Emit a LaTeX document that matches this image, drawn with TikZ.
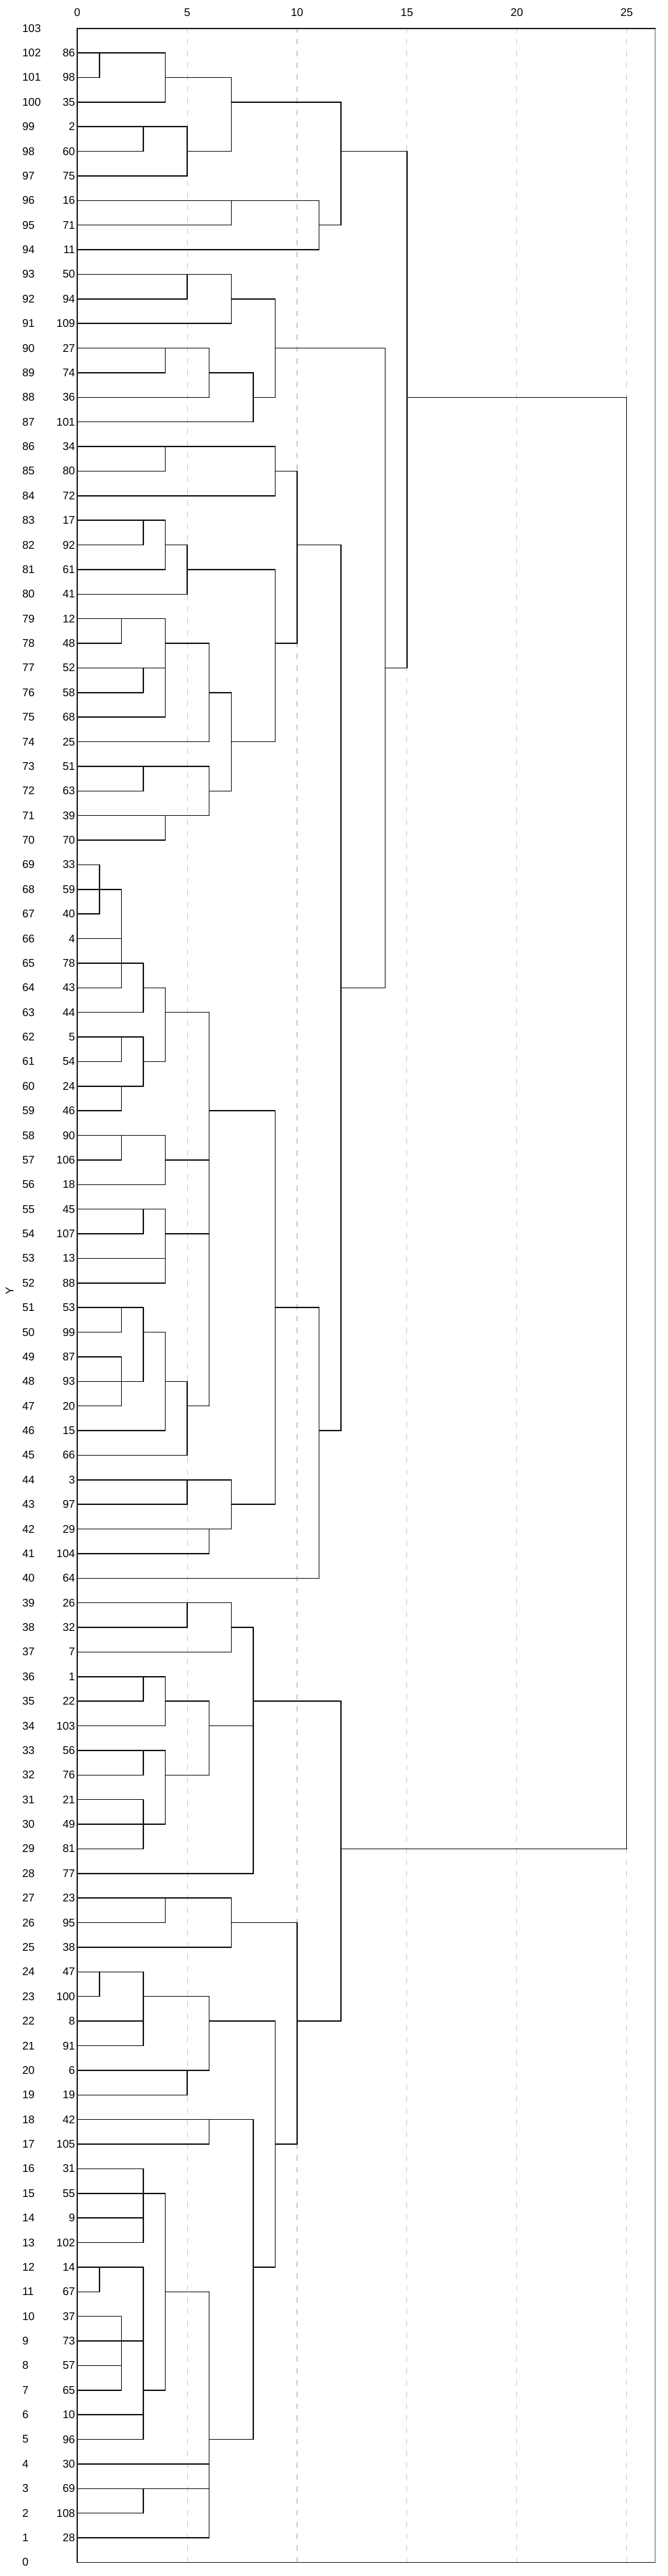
\documentclass[tikz,border=0pt]{standalone}
\usepackage{fontspec}
\setmainfont{Liberation Sans}
\usetikzlibrary{positioning}

\begin{document}
\begin{tikzpicture}[line cap=round,line join=round,x=31.58pt,y=35.376pt,
  branch/.style={black!90,line width=1.5pt},
  gridline/.style={black!20,line width=1.1pt,dash pattern=on 7pt off 10pt},
  leaflab/.style={anchor=east,inner sep=0pt,font=\fontsize{16}{19}\selectfont},
  rowlab/.style={anchor=west,inner sep=0pt,font=\fontsize{16}{19}\selectfont},
  ticklab/.style={inner sep=0pt,font=\fontsize{16}{19}\selectfont}]
\useasboundingbox (-3.521,-0.554) rectangle (26.878,104.15);
\foreach \g in {5,10,...,25}
  \draw [gridline] (\g,0) -- (\g,103);
\foreach \t in {0,5,...,25}
  \node [ticklab] (t\t) at (\t,103.64) {\t};
\foreach \r in {0,...,103}
  \node [rowlab] (r\r) at (-2.514,\r) {\r};
\node [ticklab,rotate=90] (ylab) at (-3.08,51.68) {Y};
\foreach \r/\lab in {102/86,101/98,100/35,99/2,98/60,97/75,96/16,95/71,94/11,93/50,92/94,91/109,90/27,89/74,88/36,87/101,86/34,85/80,84/72,83/17,82/92,81/61,80/41,79/12,78/48,77/52,76/58,75/68,74/25,73/51,72/63,71/39,70/70,69/33,68/59,67/40,66/4,65/78,64/43,63/44,62/5,61/54,60/24,59/46,58/90,57/106,56/18,55/45,54/107,53/13,52/88,51/53,50/99,49/87,48/93,47/20,46/15,45/66,44/3,43/97,42/29,41/104,40/64,39/26,38/32,37/7,36/1,35/22,34/103,33/56,32/76,31/21,30/49,29/81,28/77,27/23,26/95,25/38,24/47,23/100,22/8,21/91,20/6,19/19,18/42,17/105,16/31,15/55,14/9,13/102,12/14,11/67,10/37,9/73,8/57,7/65,6/10,5/96,4/30,3/69,2/108,1/28}
  \node [leaflab] (l\r) at (-0.1,\r) {\lab};
\foreach \r/\a/\b in {102/0/4,101/0/1,101/4/7,100/0/4,100/7/12,99/0/5,98/0/3,98/5/7,98/12/15,97/0/5,96/0/11,95/0/7,95/11/12,94/0/11,93/0/7,92/0/5,92/7/9,91/0/7,90/0/6,90/9/14,89/0/4,89/6/8,88/0/6,88/8/9,88/15/25,87/0/8,86/0/9,85/0/4,85/9/10,84/0/9,83/0/4,82/0/3,82/4/5,82/10/12,81/0/4,81/5/9,80/0/5,79/0/4,78/0/2,78/4/6,78/9/10,77/0/4,77/14/15,76/0/3,76/6/7,75/0/4,74/0/6,74/7/9,73/0/6,72/0/3,72/6/7,71/0/6,70/0/4,69/0/1,68/0/2,67/0/1,66/0/2,65/0/3,64/0/2,64/3/4,64/12/14,63/0/3,63/4/6,62/0/3,61/0/2,61/3/4,60/0/3,59/0/2,59/6/9,58/0/4,57/0/2,57/4/6,56/0/4,55/0/4,54/0/3,54/4/6,53/0/4,52/0/4,51/0/3,51/9/11,50/0/2,50/3/4,49/0/2,48/0/3,48/4/5,47/0/2,47/5/6,46/0/4,46/11/12,45/0/5,44/0/7,43/0/5,43/7/9,42/0/7,41/0/6,40/0/11,39/0/7,38/0/5,38/7/8,37/0/7,36/0/4,35/0/3,35/4/6,35/8/12,34/0/4,34/6/8,33/0/4,32/0/3,32/4/6,31/0/3,30/0/4,29/0/3,29/12/25,28/0/8,27/0/7,26/0/4,26/7/10,25/0/7,24/0/3,23/0/1,23/3/6,22/0/3,22/6/9,22/10/12,21/0/3,20/0/6,19/0/5,18/0/8,17/0/6,17/9/10,16/0/3,15/0/4,14/0/3,13/0/3,12/0/3,12/8/9,11/0/1,11/4/6,10/0/2,9/0/3,8/0/2,7/0/2,7/3/4,6/0/3,5/0/3,5/6/8,4/0/6,3/0/6,2/0/3,1/0/6}
  \draw [branch] (\a,\r) -- (\b,\r);
\foreach \x/\a/\b in {1/102/101,4/102/100,3/99/98,5/99/97,7/101/98,7/96/95,11/96/94,12/100/95,15/98/77,25/88/29,5/93/92,7/93/91,4/90/89,6/90/88,8/89/87,9/92/88,14/90/64,4/86/85,9/86/84,10/85/78,3/83/82,4/83/81,5/82/80,9/81/74,12/82/46,2/79/78,4/79/75,3/77/76,6/78/74,7/76/72,3/73/72,6/73/71,4/71/70,1/69/67,2/68/64,3/65/63,4/64/61,6/63/47,2/62/61,3/62/60,2/60/59,9/59/43,2/58/57,4/58/56,3/55/54,4/55/52,11/51/40,2/51/50,3/51/48,2/49/47,4/50/46,5/48/45,5/44/43,7/44/42,6/42/41,5/39/38,7/39/37,8/38/28,3/36/35,4/36/34,6/35/32,3/33/32,3/31/29,4/33/30,12/35/22,4/27/26,7/27/25,10/26/17,1/24/23,3/24/21,6/23/20,5/20/19,9/22/12,6/18/17,8/18/5,3/16/13,4/15/7,6/11/1,1/12/11,3/12/5,2/10/7,3/3/2}
  \draw [branch] (\x,\a) -- (\x,\b);
\draw [black!85,line width=1.5pt] (0,103) -- (0,0) -- (26.3,0);
\draw [black!60,line width=1pt] (26.3,0) -- (26.3,103);
\draw [black!85,line width=2pt] (0,103) -- (26.3,103);
\end{tikzpicture}
\end{document}
